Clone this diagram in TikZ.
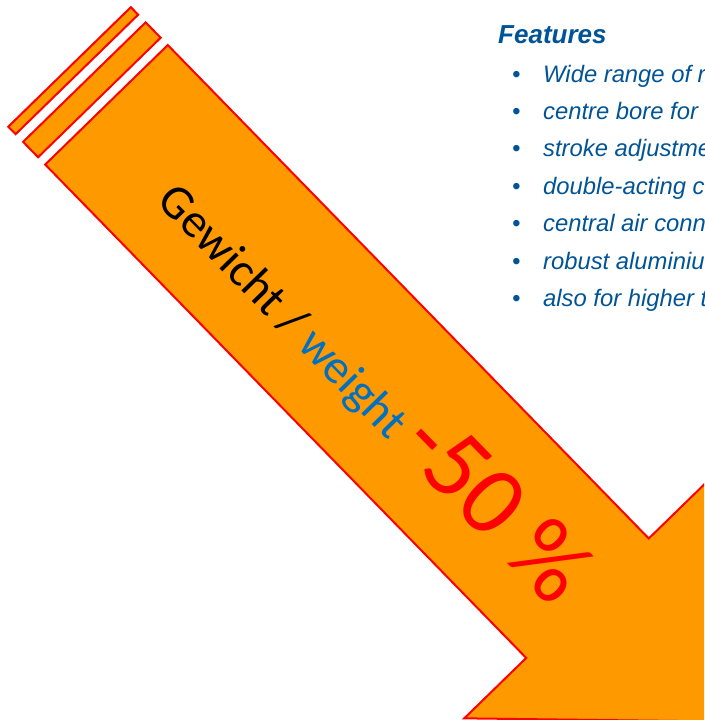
\documentclass[tikz,border=0pt]{standalone}
\usepackage{fontspec}
\setmainfont{Liberation Sans}
\newfontfamily\arrowfont{Carlito}
\definecolor{arroworange}{RGB}{255,153,0}
\definecolor{featblue}{RGB}{0,84,150}
\definecolor{weightblue}{RGB}{0,112,192}
\begin{document}
\begin{tikzpicture}[x={(1pt,0pt)}, y={(0pt,-1pt)}, arrowpart/.style={draw=red, fill=arroworange, line width=2pt}, item/.style={anchor=base west, inner sep=0pt, text=featblue, font=\itshape\fontsize{23.8}{23.8}\selectfont}]
\useasboundingbox (0,0) rectangle (704,720);
\clip (0,0) rectangle (704,720);
% arrow, drawn along its own axis
\begin{scope}[x={(0.698pt,-0.716pt)}, y={(0.716pt,0.698pt)}]
\foreach \a/\b in {96.5/107, 117.7/139.2}{\draw[arrowpart] (\a,-82.5) -- (\b,-82.5) -- (\b,88.7) -- (\a,88.7) -- cycle;}
\draw[arrowpart] (149.4,-82.5) -- (149.4,88.7) -- (838.5,88.7) -- (838.5,175.2) -- (1010.5,3.1) -- (838.5,-169) -- (838.5,-82.5) -- cycle;
\node[rotate=-45.7, anchor=base west, inner sep=0pt, font=\arrowfont\fontsize{48}{48}\selectfont] (weight) at (254,-30) {Gewicht / \textcolor{weightblue}{weight} \textcolor{red}{\fontsize{99}{99}\selectfont -50 \%}};
\end{scope}
% features list
\node[anchor=base west, inner sep=0pt, text=featblue, font=\bfseries\itshape\fontsize{26}{26}\selectfont] (features) at (498,43) {Features};
\foreach \t [count=\i] in {Wide range of r, centre bore for, stroke adjustme, double-acting c, central air conn, robust aluminiu, also for higher t}{\node[item] (bullet\i) at (512,{82+37.4*(\i-1)}) {\textbullet}; \node[item] (item\i) at (543,{82+37.4*(\i-1)}) {\t};}
\end{tikzpicture}
\end{document}
